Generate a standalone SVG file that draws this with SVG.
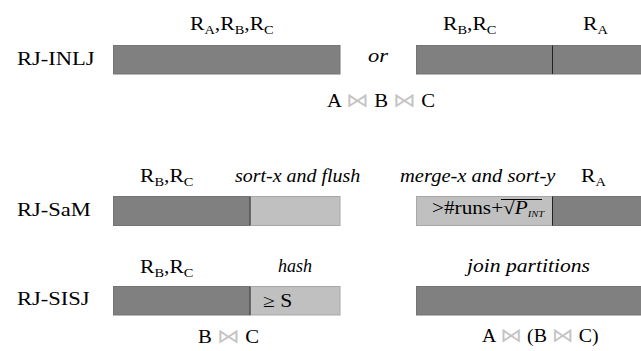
<svg xmlns="http://www.w3.org/2000/svg" width="641" height="351" viewBox="0 0 641 351">
<style>
text{font-family:"Liberation Serif","Times New Roman",serif;font-size:18px;fill:#000}
.it{font-style:italic}
.sub{font-size:12px}
.bt{font-family:"DejaVu Sans",sans-serif;fill:#c4c4c4;font-size:20px}
.dark{fill:#808080;stroke:#747474;stroke-width:1}
.light{fill:#c0c0c0;stroke:#a8a8a8;stroke-width:1}
.div{stroke:#222;stroke-width:1}
</style>
<rect width="641" height="351" fill="#fff"/>
<g id="row-inlj">
  <g transform="translate(17,65) scale(1.25,1)"><text>RJ-INLJ</text></g>
  <g id="inlj-left">
    <rect class="dark" x="113.5" y="45.5" width="226.5" height="28.5"/>
    <g transform="translate(190,30) scale(1.2,1)"><text>R<tspan class="sub" dy="4">A</tspan><tspan dy="-4">,R</tspan><tspan class="sub" dy="4">B</tspan><tspan dy="-4">,R</tspan><tspan class="sub" dy="4">C</tspan></text></g>
  </g>
  <g transform="translate(368,62) scale(1.25,1)"><text class="it">or</text></g>
  <g id="inlj-right">
    <rect class="dark" x="416.5" y="45.5" width="226" height="28.5"/>
    <line class="div" x1="552.5" y1="45.5" x2="552.5" y2="74"/>
    <g transform="translate(443,30) scale(1.2,1)"><text>R<tspan class="sub" dy="4">B</tspan><tspan dy="-4">,R</tspan><tspan class="sub" dy="4">C</tspan></text></g>
    <g transform="translate(583,30) scale(1.2,1)"><text>R<tspan class="sub" dy="4">A</tspan></text></g>
  </g>
  <g transform="translate(327,107) scale(1.15,1)"><text>A <tspan class="bt">⋈</tspan> B <tspan class="bt">⋈</tspan> C</text></g>
</g>
<g id="row-sam">
  <g transform="translate(17,216) scale(1.25,1)"><text>RJ-SaM</text></g>
  <g id="sam-left">
    <rect class="dark" x="113.5" y="196.5" width="136.5" height="29"/>
    <rect class="light" x="250" y="196.5" width="90" height="29"/>
    <line class="div" x1="250" y1="196.5" x2="250" y2="225.5"/>
    <g transform="translate(140,182) scale(1.2,1)"><text>R<tspan class="sub" dy="4">B</tspan><tspan dy="-4">,R</tspan><tspan class="sub" dy="4">C</tspan></text></g>
    <g transform="translate(235,182) scale(1.11,1)"><text class="it">sort-x and flush</text></g>
  </g>
  <g id="sam-right">
    <rect class="light" x="416.5" y="196.5" width="136" height="29"/>
    <rect class="dark" x="552.5" y="196.5" width="90" height="29"/>
    <line class="div" x1="552.5" y1="196.5" x2="552.5" y2="225.5"/>
    <g transform="translate(400,182) scale(1.14,1)"><text class="it">merge-x and sort-y</text></g>
    <g transform="translate(581,182) scale(1.2,1)"><text>R<tspan class="sub" dy="4">A</tspan></text></g>
    <g transform="translate(432,214) scale(1.18,1)"><text>&gt;#runs+√<tspan class="it">P</tspan><tspan class="it" font-size="9" dy="3">INT</tspan></text></g>
    <line x1="501" y1="199.5" x2="542" y2="199.5" stroke="#000" stroke-width="1"/>
  </g>
</g>
<g id="row-sisj">
  <g transform="translate(17,305) scale(1.25,1)"><text>RJ-SISJ</text></g>
  <g id="sisj-left">
    <rect class="dark" x="113.5" y="286.5" width="136.5" height="28.5"/>
    <rect class="light" x="250" y="286.5" width="90" height="28.5"/>
    <line class="div" x1="250" y1="286.5" x2="250" y2="315"/>
    <g transform="translate(140,273) scale(1.2,1)"><text>R<tspan class="sub" dy="4">B</tspan><tspan dy="-4">,R</tspan><tspan class="sub" dy="4">C</tspan></text></g>
    <g transform="translate(278,272)"><text class="it" font-size="16">hash</text></g>
    <g transform="translate(263,307) scale(1.2,1)"><text>≥ S</text></g>
  </g>
  <g id="sisj-right">
    <rect class="dark" x="416.5" y="286.5" width="226" height="28.5"/>
    <g transform="translate(467,272) scale(1.2,1)"><text class="it">join partitions</text></g>
  </g>
  <g transform="translate(198,343) scale(1.15,1)"><text>B <tspan class="bt">⋈</tspan> C</text></g>
  <g transform="translate(482,342) scale(1.1,1)"><text>A <tspan class="bt">⋈</tspan> (B <tspan class="bt">⋈</tspan> C)</text></g>
</g>
<g id="connectors"/>
</svg>
